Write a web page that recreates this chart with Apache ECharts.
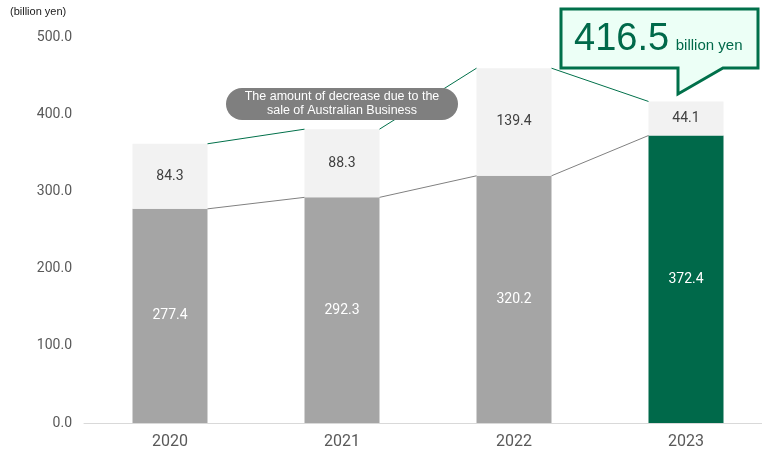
<!DOCTYPE html>
<html>
<head>
<meta charset="utf-8">
<script src="https://cdn.jsdelivr.net/npm/echarts@6/dist/echarts.min.js"></script>
<style>
  html, body { margin: 0; padding: 0; background: #fff; overflow: hidden; }
  #main { width: 772px; height: 454px; }
</style>
</head>
<body>
<div id="main"></div>
<script>
// data
var years = ['2020', '2021', '2022', '2023'];
var baseValues = [277.4, 292.3, 320.2, 372.4];
var decreaseValues = [84.3, 88.3, 139.4, 44.1];
var yTicks = [0, 100, 200, 300, 400, 500];

var GREEN = '#00694a';
var GRAY = '#a5a5a5';
var LIGHT = '#f2f2f2';
var BAR_W = 75;

var totals = baseValues.map(function (v, i) { return +(v + decreaseValues[i]).toFixed(1); });

// pairs for connector lines between neighbouring bars
function pairs(arr) {
    var out = [];
    for (var i = 0; i < arr.length - 1; i++) out.push([i, arr[i], arr[i + 1]]);
    return out;
}

function connector(color) {
    return function (params, api) {
        var i = api.value(0);
        var p1 = api.coord([i, api.value(1)]);
        var p2 = api.coord([i + 1, api.value(2)]);
        return {
            type: 'line',
            shape: { x1: p1[0] + BAR_W / 2, y1: p1[1], x2: p2[0] - BAR_W / 2, y2: p2[1] },
            style: { stroke: color, lineWidth: 1 }
        };
    };
}

var chartDom = document.getElementById('main');
var myChart = echarts.init(chartDom);
var option;

// plot area runs a little past the right edge of the window, like the original
option = {
    animation: false,
    textStyle: { fontFamily: 'Roboto, "Liberation Sans", sans-serif' },
    grid: { left: 84, top: 37, right: 0, bottom: 31, containLabel: false },
    xAxis: {
        type: 'category',
        data: years,
        axisTick: { show: false },
        axisLine: { lineStyle: { color: '#d9d9d9', width: 1 } },
        axisLabel: { color: '#595959', fontSize: 16, margin: 11 }
    },
    yAxis: {
        type: 'value',
        min: yTicks[0],
        max: yTicks[yTicks.length - 1],
        interval: yTicks[1] - yTicks[0],
        splitLine: { show: false },
        axisLine: { show: false },
        axisTick: { show: false },
        axisLabel: {
            color: '#595959', fontSize: 14, margin: 12,
            formatter: function (v) { return v.toFixed(1); }
        }
    },
    series: [
        {
            name: 'base',
            type: 'bar',
            stack: 'total',
            barWidth: BAR_W,
            data: baseValues.map(function (v, i) {
                return { value: v, itemStyle: { color: i === baseValues.length - 1 ? GREEN : GRAY } };
            }),
            label: {
                show: true, position: 'inside', color: '#fff', fontSize: 14,
                formatter: function (p) { return p.value.toFixed(1); }
            }
        },
        {
            name: 'decrease',
            type: 'bar',
            stack: 'total',
            barWidth: BAR_W,
            itemStyle: { color: LIGHT },
            data: decreaseValues,
            label: {
                show: true, position: 'inside', color: '#404040', fontSize: 14,
                formatter: function (p) { return p.value.toFixed(1); }
            }
        },
        {
            type: 'custom',
            renderItem: connector('#808080'),
            data: pairs(baseValues),
            z: 5
        },
        {
            type: 'custom',
            renderItem: connector('#00704a'),
            data: pairs(totals),
            z: 5
        }
    ],
    graphic: [
        {
            type: 'text', left: 10, top: 6,
            style: { text: '(billion yen)', fill: '#1a1a1a', fontSize: 11, fontFamily: '"Liberation Sans", Arial, sans-serif' }
        },
        {
            type: 'rect', z: 10,
            shape: { x: 226, y: 88, width: 232, height: 32, r: 16 },
            style: { fill: '#7f7f7f' }
        },
        {
            type: 'text', z: 11, x: 342, y: 104,
            style: {
                text: 'The amount of decrease due to the\nsale of Australian Business',
                fill: '#fff', fontSize: 12.5, lineHeight: 14, align: 'center', verticalAlign: 'middle',
                fontFamily: '"Liberation Sans", Arial, sans-serif'
            }
        },
        {
            type: 'polygon', z: 10,
            shape: { points: [[561, 9], [758, 9], [758, 68], [723, 68], [678, 94], [678, 68], [561, 68]] },
            style: { fill: '#ecfff6', stroke: '#00704a', lineWidth: 3, lineJoin: 'miter' }
        },
        {
            type: 'text', z: 11, x: 574, y: 40,
            style: {
                text: '{a|' + totals[totals.length - 1].toFixed(1) + '}  {b|billion yen}',
                verticalAlign: 'middle',
                rich: {
                    a: { fontSize: 38, fill: GREEN, fontFamily: '"Liberation Sans", Arial, sans-serif' },
                    b: { fontSize: 15, fill: GREEN, fontFamily: '"Liberation Sans", Arial, sans-serif', padding: [12, 0, 0, 0] }
                }
            }
        }
    ]
};

option && myChart.setOption(option);
</script>
</body>
</html>
